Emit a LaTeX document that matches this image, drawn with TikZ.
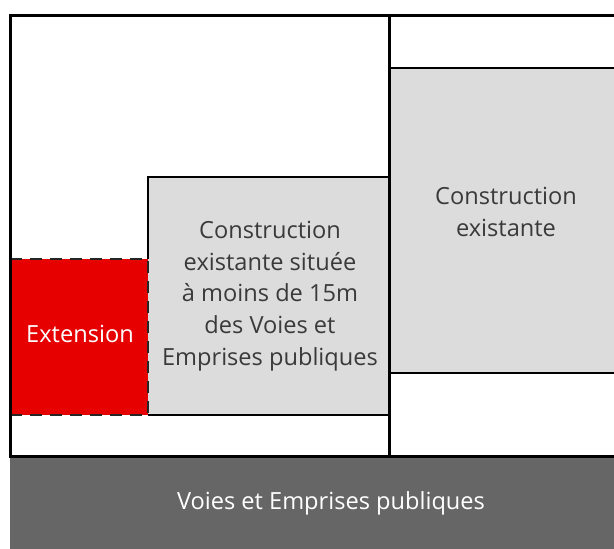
\documentclass[tikz,border=0pt]{standalone}
\usepackage{fontspec}
\setmainfont{Open Sans}
\definecolor{bldggray}{HTML}{DCDCDC}
\definecolor{extred}{HTML}{E60000}
\definecolor{roadgray}{HTML}{666666}
\definecolor{txtgray}{HTML}{3A3A3A}
\begin{document}
\begin{tikzpicture}[x=1pt,y=-1pt,
  txtfont/.style={font=\fontsize{23.6}{31.8}\selectfont},
  bldg/.style={fill=bldggray, draw=none, inner sep=0pt, outer sep=0pt, anchor=north west, text=txtgray, align=center, txtfont},
  bldgline/.style={draw=black, line width=2pt},
  extbox/.style={fill=extred, draw=black!85, line width=2pt, dash pattern=on 12pt off 8pt, inner sep=0pt, outer sep=0pt, anchor=north west, text=white, txtfont},
  roadbox/.style={fill=roadgray, inner sep=0pt, outer sep=0pt, anchor=north west},
  lotframe/.style={draw=black, line width=3pt, inner sep=0pt, outer sep=0pt, anchor=north west},
  lbl/.style={text=txtgray, align=center, txtfont}]
\useasboundingbox (0,0) rectangle (614,549);
\clip (0,0) rectangle (614,549);
% road
\node[roadbox, minimum width=620pt, minimum height=100pt] (road) at (10,456) {};
\node[text=white, txtfont] (roadlbl) at (331,503) {Voies et Emprises publiques};
% right building
\node[bldg, minimum width=320pt, minimum height=305pt] (right) at (389,68) {};
\draw[bldgline] (right.north west) -- (right.north east);
\draw[bldgline] (right.south west) -- (right.south east);
\node[lbl] (rightlbl) at (506,212) {Construction\\existante};
% middle building
\node[bldg, minimum width=241pt, minimum height=238pt] (mid) at (148,177) {};
\node[lbl] (midlbl) at (270,296) {Construction\\existante située\\à moins de 15m\\des Voies et\\Emprises publiques};
% extension
\node[extbox, minimum width=138pt, minimum height=156pt] (ext) at (10,259) {};
\node[text=white, txtfont] (extlbl) at (80,334) {Extension};
\draw[bldgline] (ext.north east) -- (mid.north west) -- (mid.north east) -- (mid.south east) -- (mid.south west);
% lot frame
\node[lotframe, minimum width=700pt, minimum height=441pt] (lot) at (10,15) {};
\draw[black, line width=3pt] (lot.north -| mid.east) -- (lot.south -| mid.east);
\end{tikzpicture}
\end{document}
